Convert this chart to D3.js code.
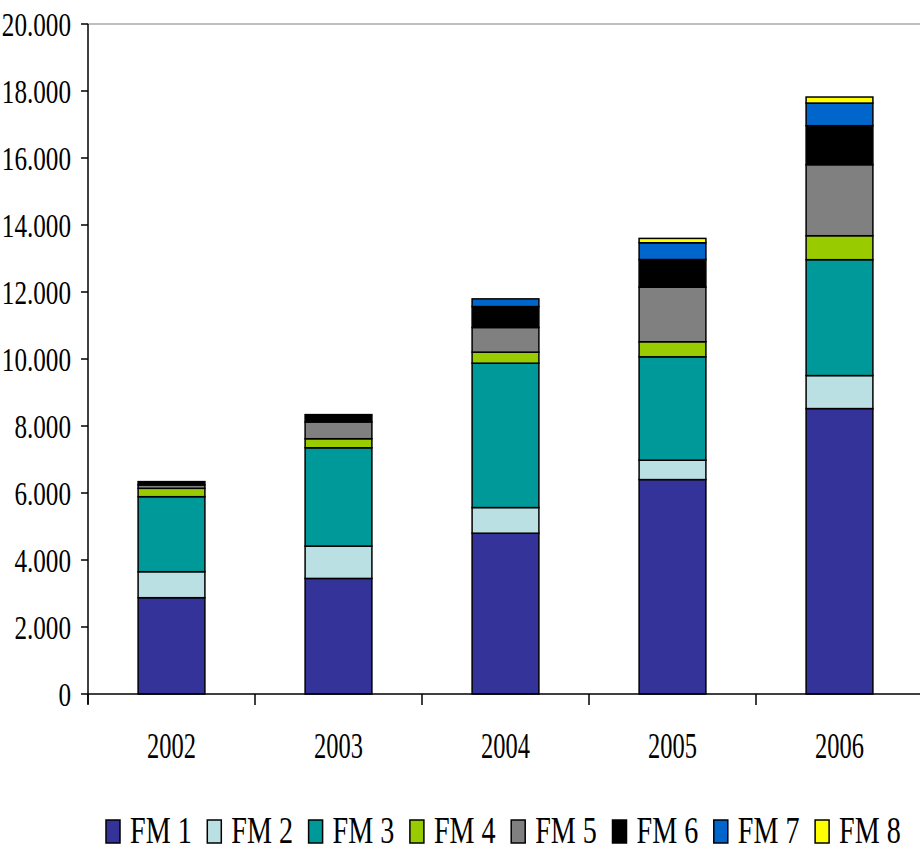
<!DOCTYPE html>
<html>
<head>
<meta charset="utf-8">
<script src="https://cdn.jsdelivr.net/npm/d3@7"></script>
<style>
  html, body { margin: 0; padding: 0; background: #fff; }
  svg { display: block; }
  text { font-family: "Liberation Serif", "Times New Roman", serif; fill: #000; }
</style>
</head>
<body>
<svg id="chart" width="920" height="850"></svg>
<script>
// Years on the category axis
const years = ["2002", "2003", "2004", "2005", "2006"];

// Series names, stacked from the bottom up
const seriesNames = ["FM 1", "FM 2", "FM 3", "FM 4", "FM 5", "FM 6", "FM 7", "FM 8"];

// Values per series, one per year
const fm1 = [2875, 3450, 4800, 6400, 8520];
const fm2 = [775, 965, 765, 580, 985];
const fm3 = [2240, 2935, 4310, 3085, 3460];
const fm4 = [250, 270, 330, 450, 715];
const fm5 = [100, 500, 735, 1630, 2120];
const fm6 = [100, 220, 625, 825, 1165];
const fm7 = [0, 0, 230, 500, 675];
const fm8 = [0, 0, 0, 130, 180];

const seriesColors = ["#333399", "#bbe0e3", "#009999", "#99cc00", "#808080", "#000000", "#0066cc", "#ffff00"];

// Value axis ticks
const yTicks = [0, 2000, 4000, 6000, 8000, 10000, 12000, 14000, 16000, 18000, 20000];

const seriesValues = [fm1, fm2, fm3, fm4, fm5, fm6, fm7, fm8];
const table = years.map((y, i) => {
  const row = { year: y };
  seriesNames.forEach((s, k) => { row[s] = seriesValues[k][i]; });
  return row;
});

const svg = d3.select("#chart");

const plot = { left: 88, right: 923, top: 24, bottom: 694 };

const x = d3.scaleBand()
  .domain(years)
  .range([plot.left, plot.right])
  .paddingInner(0.6)
  .paddingOuter(0.3);

const y = d3.scaleLinear()
  .domain([0, 20000])
  .range([plot.bottom, plot.top]);

const locale = d3.formatLocale({ decimal: ",", thousands: ".", grouping: [3], currency: ["", "€"] });
const fmt = locale.format(",d");

// Top border of the plot area
svg.append("line")
  .attr("x1", plot.left).attr("x2", 920)
  .attr("y1", y(20000)).attr("y2", y(20000))
  .attr("stroke", "#c0c0c0").attr("stroke-width", 2);

// Stacked bars
const stack = d3.stack().keys(seriesNames);
const layers = stack(table);

svg.append("g")
  .selectAll("g")
  .data(layers)
  .join("g")
  .attr("fill", (d, i) => seriesColors[i])
  .selectAll("rect")
  .data(d => d.filter(p => p[1] - p[0] > 0))
  .join("rect")
  .attr("x", d => x(d.data.year))
  .attr("width", x.bandwidth())
  .attr("y", d => y(d[1]))
  .attr("height", d => y(d[0]) - y(d[1]))
  .attr("stroke", "#000")
  .attr("stroke-width", 1.5);

// Y axis
const yAxis = svg.append("g").attr("transform", `translate(${plot.left},0)`);
yAxis.append("line")
  .attr("x1", 0).attr("x2", 0)
  .attr("y1", y(20000)).attr("y2", plot.bottom + 10)
  .attr("stroke", "#000").attr("stroke-width", 1.5);
const yt = yAxis.selectAll("g.tick")
  .data(yTicks)
  .join("g")
  .attr("class", "tick")
  .attr("transform", d => `translate(0,${y(d)})`);
yt.append("line")
  .attr("x1", -7).attr("x2", 0)
  .attr("stroke", "#000").attr("stroke-width", 1.5);
yt.append("g")
  .attr("transform", "translate(-17,0) scale(0.74,1)")
  .append("text")
  .attr("text-anchor", "end")
  .attr("dy", "0.34em")
  .style("font-size", "34px")
  .text(d => fmt(d));

// X axis
const xAxis = svg.append("g");
xAxis.append("line")
  .attr("x1", plot.left).attr("x2", 920)
  .attr("y1", plot.bottom).attr("y2", plot.bottom)
  .attr("stroke", "#000").attr("stroke-width", 1.5);
const bounds = years.map(d => x(d) - x.step() * 0.3).concat([x(years[years.length - 1]) + x.step() * 0.7]);
xAxis.selectAll("line.xt")
  .data(bounds)
  .join("line")
  .attr("class", "xt")
  .attr("x1", d => d).attr("x2", d => d)
  .attr("y1", plot.bottom).attr("y2", plot.bottom + 11)
  .attr("stroke", "#000").attr("stroke-width", 1.5);
xAxis.selectAll("g.xl")
  .data(years)
  .join("g")
  .attr("class", "xl")
  .attr("transform", d => `translate(${x(d) + x.bandwidth() / 2},758) scale(0.68,1)`)
  .append("text")
  .attr("text-anchor", "middle")
  .style("font-size", "36px")
  .text(d => d);

// Legend
const legend = svg.append("g");
const item = legend.selectAll("g")
  .data(seriesNames)
  .join("g")
  .attr("transform", (d, i) => `translate(${106 + i * 101.3},0)`);
item.append("rect")
  .attr("x", 0).attr("y", 820)
  .attr("width", 14).attr("height", 23)
  .attr("fill", (d, i) => seriesColors[i])
  .attr("stroke", "#000").attr("stroke-width", 1.5);
item.append("g")
  .attr("transform", "translate(24,843) scale(0.76,1)")
  .append("text")
  .style("font-size", "37px")
  .text(d => d);
</script>
</body>
</html>
